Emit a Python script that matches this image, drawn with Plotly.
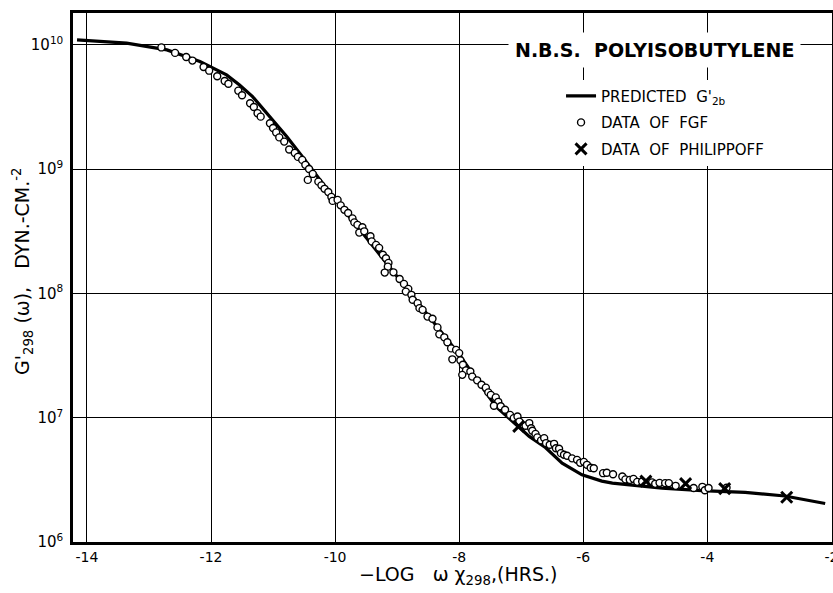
import plotly.graph_objects as go

# ---- data (x = -log(omega*a_T), y = log10 G') ----
pred_x = [-14.16, -13.79, -13.36, -12.71, -12.18, -11.75, -11.54, -11.33, -11.06,
          -10.78, -10.53, -10.30, -10.04, -9.58, -9.00, -8.48, -8.00, -7.41, -7.04,
          -6.87, -6.61, -6.34, -6.02, -5.70, -5.53, -5.16, -4.73, -4.09, -3.39,
          -2.75, -2.10]
pred_log10_g = [10.04, 10.027, 10.014, 9.96, 9.866, 9.759, 9.678, 9.584, 9.423,
                9.263, 9.102, 8.954, 8.78, 8.50, 8.14, 7.81, 7.51, 7.09, 6.93,
                6.85, 6.76, 6.635, 6.541, 6.49, 6.474, 6.455, 6.434, 6.414, 6.40,
                6.37, 6.31]

fgf_x = [-12.80, -12.58, -12.40, -12.30, -12.12, -12.03, -11.90, -11.78, -11.72,
         -11.56, -11.50, -11.37, -11.31, -11.25, -11.20, -11.05, -11.00, -10.95,
         -10.90, -10.82, -10.74, -10.65, -10.60, -10.53, -10.48, -10.42, -10.36,
         -10.44, -10.27, -10.22, -10.17, -10.11, -10.06, -10.04, -9.96, -9.91,
         -9.85, -9.79, -9.72, -9.69, -9.64, -9.56, -9.61, -9.53, -9.43, -9.41,
         -9.34, -9.29, -9.23, -9.18, -9.14, -9.15, -9.20, -9.06, -8.96, -8.89,
         -8.82, -8.86, -8.77, -8.75, -8.67, -8.64, -8.59, -8.51, -8.43, -8.35,
         -8.32, -8.24, -8.19, -8.13, -8.05, -8.00, -8.11, -7.98, -7.94, -7.89,
         -7.95, -7.82, -7.79, -7.71, -7.64, -7.57, -7.53, -7.49, -7.41, -7.37,
         -7.44, -7.33, -7.26, -7.18, -7.12, -7.06, -7.03, -6.93, -6.87, -6.84,
         -6.82, -6.77, -6.74, -6.68, -6.63, -6.60, -6.54, -6.47, -6.44, -6.39,
         -6.36, -6.31, -6.26, -6.18, -6.10, -6.05, -5.99, -5.94, -5.88, -5.83,
         -5.68, -5.62, -5.52, -5.37, -5.32, -5.25, -5.19, -5.13, -5.05, -4.89,
         -4.84, -4.77, -4.68, -4.62, -4.51, -4.22, -4.08, -4.04, -3.98, -3.69]
fgf_log10_g = [9.980, 9.936, 9.903, 9.874, 9.823, 9.793, 9.748, 9.710, 9.688,
               9.632, 9.595, 9.531, 9.501, 9.451, 9.423, 9.370, 9.332, 9.296,
               9.256, 9.222, 9.159, 9.131, 9.099, 9.075, 9.035, 9.002, 8.962,
               8.914, 8.900, 8.870, 8.842, 8.817, 8.777, 8.745, 8.753, 8.709,
               8.673, 8.648, 8.604, 8.572, 8.552, 8.533, 8.490, 8.500, 8.461, 8.419,
               8.391, 8.367, 8.311, 8.284, 8.246, 8.216, 8.168, 8.170, 8.117, 8.077,
               8.037, 8.015, 7.989, 7.949, 7.922, 7.882, 7.868, 7.814, 7.796, 7.727,
               7.671, 7.647, 7.607, 7.558, 7.546, 7.520, 7.470, 7.462, 7.426, 7.381,
               7.345, 7.372, 7.331, 7.301, 7.265, 7.242, 7.204, 7.184, 7.164, 7.128,
               7.096, 7.092, 7.064, 7.023, 6.997, 7.010, 6.969, 6.936, 6.957, 6.915,
               6.895, 6.870, 6.842, 6.818, 6.836, 6.796, 6.782, 6.790, 6.755, 6.750,
               6.715, 6.702, 6.694, 6.673, 6.661, 6.637, 6.645, 6.621, 6.597, 6.594,
               6.554, 6.557, 6.545, 6.527, 6.504, 6.500, 6.508, 6.484, 6.487, 6.480,
               6.468, 6.476, 6.474, 6.474, 6.452, 6.434, 6.444, 6.416, 6.434, 6.436]

phil_x = [-7.04, -4.99, -4.35, -3.72, -2.72]
phil_log10_g = [6.93, 6.49, 6.47, 6.43, 6.36]

x_ticks = [-14, -12, -10, -8, -6, -4, -2]
x_tick_labels = ["-14", "-12", "-10", "-8", "-6", "-4", "-2"]
y_decades = [6, 7, 8, 9, 10]
y_tick_labels = ["10<sup>6</sup>", "10<sup>7</sup>", "10<sup>8</sup>",
                 "10<sup>9</sup>", "10<sup>10</sup>"]

FONT = "DejaVu Sans"

fig = go.Figure()
fig.add_trace(go.Scatter(
    x=pred_x, y=[10 ** v for v in pred_log10_g], mode="lines",
    line=dict(color="black", width=3.2),
    name="PREDICTED  G'<sub>2b</sub>", legendgroup="a"))
fig.add_trace(go.Scatter(
    x=fgf_x, y=[10 ** v for v in fgf_log10_g], mode="markers",
    marker=dict(symbol="circle", size=7, color="white",
                line=dict(color="black", width=1.4)),
    name="DATA  OF  FGF", legendgroup="b"))
fig.add_trace(go.Scatter(
    x=phil_x, y=[10 ** v for v in phil_log10_g], mode="markers",
    marker=dict(symbol="x-thin", size=11, color="black",
                line=dict(color="black", width=3)),
    name="DATA  OF  PHILIPPOFF", legendgroup="c"))

fig.update_layout(
    width=833, height=593,
    margin=dict(l=73, r=1, t=13, b=51, autoexpand=False),
    paper_bgcolor="white", plot_bgcolor="white",
    font=dict(family=FONT, color="black", size=13),
    showlegend=True,
    legend=dict(x=0.643, y=0.874, xanchor="left", yanchor="top",
                bgcolor="white", borderwidth=0,
                font=dict(family=FONT, size=15, color="black"),
                itemwidth=30, tracegroupgap=4),
    xaxis=dict(range=[-14.225, -1.99], tickmode="array", tickvals=x_ticks,
               ticktext=x_tick_labels, showgrid=True, gridcolor="black",
               gridwidth=1, zeroline=False, showline=True, linecolor="black",
               linewidth=2.5, mirror=True, ticks="", ticklabeloverflow="allow",
               automargin=False,
               tickfont=dict(family=FONT, size=14, color="black")),
    yaxis=dict(type="log", range=[6, 10.257], tickmode="array",
               tickvals=[10 ** d for d in y_decades], ticktext=y_tick_labels,
               showgrid=True, gridcolor="black", gridwidth=1, zeroline=False,
               showline=True, linecolor="black", linewidth=2.5, mirror=True,
               ticks="", ticklabelstandoff=4, automargin=False,
               tickfont=dict(family=FONT, size=15, color="black")),
    annotations=[
        dict(text="<b>N.B.S.  POLYISOBUTYLENE</b>", xref="paper", yref="paper",
             x=(654 - 73) / 759, y=1 - (50 - 13) / 529, xanchor="center",
             yanchor="middle", showarrow=False, bgcolor="white", borderpad=6,
             font=dict(family=FONT, size=19, color="black")),
        dict(text="\u2212LOG   \u03c9 \u03c7<sub>298</sub>,(HRS.)", xref="paper",
             yref="paper", x=(458 - 73) / 759, y=-(575 - 542) / 529,
             xanchor="center", yanchor="middle", showarrow=False,
             font=dict(family=FONT, size=19, color="black")),
        dict(text="G'<sub>298</sub> (\u03c9),   DYN.-CM.<sup>-2</sup>", xref="paper",
             yref="paper", x=(22 - 73) / 759, y=(542 - 271) / 529,
             xanchor="center", yanchor="middle", textangle=-90, showarrow=False,
             font=dict(family=FONT, size=19, color="black")),
    ],
)

fig.write_html("out.html")
